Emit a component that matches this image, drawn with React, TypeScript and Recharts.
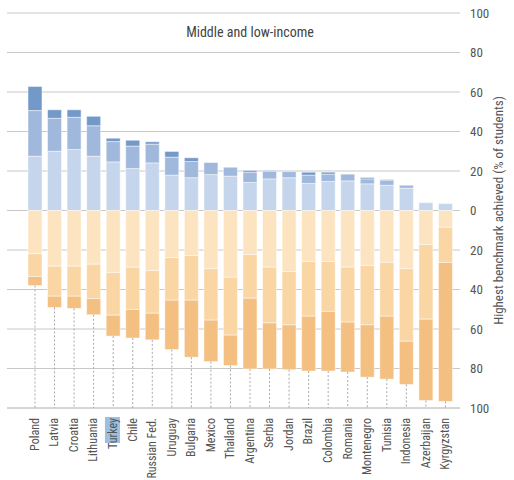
import React from 'react';
import { BarChart, Bar, XAxis, YAxis, CartesianGrid } from 'recharts';

const countries = ['Poland','Latvia','Croatia','Lithuania','Turkey','Chile','Russian Fed.','Uruguay','Bulgaria','Mexico','Thailand','Argentina','Serbia','Jordan','Brazil','Colombia','Romania','Montenegro','Tunisia','Indonesia','Azerbaijan','Kyrgyzstan'];

// Positive segments (blue): lightest near zero, then mid, then dark
const blueLow = [27.5,30,30.9,27.5,24.6,21.3,24.1,17.9,16.6,18.2,17.4,14.2,16,16.6,13.7,14.7,15,13.5,12.8,11.3,4,3.5];
const blueMid = [23.1,16.7,16.3,15.4,10.3,11.3,9.5,9.1,8.2,6.1,4.5,5.2,3.9,3.1,4.2,3.7,3.4,2.5,2.6,1.5,0,0];
const blueHigh = [12.2,4.3,3.8,4.8,1.7,3,1.2,2.9,1.9,0,0,0.9,0.4,0,1.5,1,0,0.7,0.3,0,0,0];

// Negative segments (orange), magnitudes: lightest near zero, then mid, then dark
const orangeLow = [21.9,28.2,28.2,27.2,31.4,28.7,30.4,23.8,22.8,29.5,33.8,22.3,28.7,30.9,25.8,25.8,28.7,27.8,26.3,29.5,17.2,8.5];
const orangeMid = [11.5,15.2,15.2,17.4,21.6,21.4,21.6,21.6,22.6,26,29.3,22.1,28.2,27,27.7,25.3,27.8,30.1,27.2,36.7,37.8,17.8];
const orangeHigh = [4.6,5.7,6.2,8.2,10.6,14.5,13.5,25,28.9,21,15.4,35.9,23.4,22.7,27.8,30.2,25.3,26.5,31.9,21.9,41.2,70.4];

const yTicks = [-100,-80,-60,-40,-20,0,20,40,60,80,100];
const highlighted = 'Turkey';

const data = countries.map((name, i) => ({
  name,
  b1: blueLow[i],
  b2: blueMid[i],
  b3: blueHigh[i],
  o1: -orangeLow[i],
  o2: -orangeMid[i],
  o3: -orangeHigh[i],
  rest: -(100 - orangeLow[i] - orangeMid[i] - orangeHigh[i]),
}));

const FONT = "'Liberation Sans Narrow', 'Roboto Condensed', 'DejaVu Sans Condensed', 'Liberation Sans', sans-serif";

const DashedShape = (props: any) => {
  const { x, y, width, height } = props;
  if (width == null || height == null) return null;
  const cx = x + width / 2;
  const top = Math.min(y, y + height);
  const bot = Math.max(y, y + height);
  return <line x1={cx} x2={cx} y1={top} y2={bot} stroke="#a8a8a8" strokeWidth={1} strokeDasharray="2 2" />;
};

const XTick = (props: any) => {
  const { x, y, payload } = props;
  const label = payload.value;
  const hl = label === highlighted;
  return (
    <g transform={`translate(${x},${y})`}>
      {hl && <rect x={-8} y={1} width={15} height={26} fill="#9cc0df" />}
      <text transform="rotate(-90)" x={0} y={0} dx={-2} dy={4} textAnchor="end" fontSize={12} fill="#555" fontFamily={FONT}>
        {label}
      </text>
    </g>
  );
};

const YLabel = (props: any) => {
  const { viewBox } = props;
  const cx = viewBox.x + viewBox.width - 11;
  const cy = viewBox.y + viewBox.height / 2;
  return (
    <text transform={`translate(${cx},${cy}) rotate(-90)`} textAnchor="middle" fontSize={13} fill="#555" fontFamily={FONT}>
      Highest benchmark achieved (% of students)
    </text>
  );
};

export default function App() {
  return (
    <div style={{ position: 'absolute', left: 0, top: 0, width: 514, height: 480, background: '#fff' }}>
      <BarChart
        width={514}
        height={480}
        data={data}
        stackOffset="sign"
        margin={{ top: 13, right: 0, left: 7, bottom: 0 }}
        barSize={14}
      >
        <CartesianGrid vertical={false} stroke="#c8c8c8" strokeWidth={1} />
        <XAxis
          dataKey="name"
          interval={0}
          tick={<XTick />}
          axisLine={false}
          tickLine={false}
          height={72}
          padding={{ left: 18, right: 5 }}
        />
        <YAxis
          orientation="right"
          domain={[-100, 100]}
          ticks={yTicks}
          tickFormatter={(v: number) => String(Math.abs(v))}
          axisLine={false}
          tickLine={false}
          width={54}
          tick={{ fontSize: 13, fill: '#555', fontFamily: FONT, dx: 2 }}
          label={<YLabel />}
        />
        <Bar dataKey="b1" stackId="s" fill="#c5d6ec" stroke="#ffffff" strokeOpacity={0.6} strokeWidth={0.8} isAnimationActive={false} />
        <Bar dataKey="b2" stackId="s" fill="#a0b8db" stroke="#ffffff" strokeOpacity={0.6} strokeWidth={0.8} isAnimationActive={false} />
        <Bar dataKey="b3" stackId="s" fill="#7399c8" stroke="#ffffff" strokeOpacity={0.6} strokeWidth={0.8} isAnimationActive={false} />
        <Bar dataKey="o1" stackId="s" fill="#fde4c1" stroke="#ffffff" strokeOpacity={0.6} strokeWidth={0.8} isAnimationActive={false} />
        <Bar dataKey="o2" stackId="s" fill="#f9d6a4" stroke="#ffffff" strokeOpacity={0.6} strokeWidth={0.8} isAnimationActive={false} />
        <Bar dataKey="o3" stackId="s" fill="#f4c082" stroke="#ffffff" strokeOpacity={0.6} strokeWidth={0.8} isAnimationActive={false} />
        <Bar dataKey="rest" stackId="s" fill="none" shape={<DashedShape />} isAnimationActive={false} />
      </BarChart>
      <div style={{ position: 'absolute', left: 0, width: 500, top: 24, textAlign: 'center', fontFamily: FONT, fontSize: 14, color: '#444' }}>
        Middle and low-income
      </div>
    </div>
  );
}
